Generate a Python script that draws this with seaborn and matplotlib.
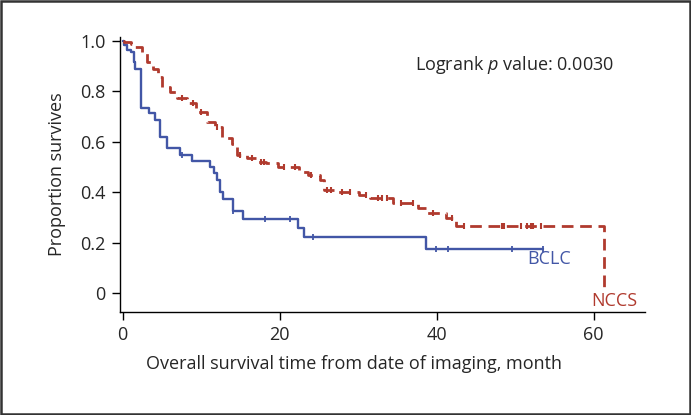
import numpy as np
import pandas as pd
import matplotlib
matplotlib.use("Agg")
import matplotlib.pyplot as plt
import seaborn as sns

# survival steps (months, proportion surviving)
bclc_t = [0, 0.2, 0.5, 1.0, 1.4, 1.6, 2.3, 3.3, 4.1, 4.7, 5.6, 7.3, 8.8, 11.1, 11.6,
          12.0, 12.4, 12.8, 14.1, 15.3, 22.3, 23.1, 38.7, 53.6]
bclc_s = [1.0, 0.983, 0.963, 0.957, 0.917, 0.89, 0.733, 0.713, 0.686, 0.62, 0.574,
          0.547, 0.525, 0.50, 0.475, 0.449, 0.40, 0.373, 0.327, 0.295, 0.259, 0.223,
          0.177, 0.177]
bclc_cens_t = [7.6, 14.1, 18.1, 21.3, 24.2, 39.9, 41.5, 49.6, 53.6]
bclc_cens_s = [0.547, 0.327, 0.295, 0.295, 0.223, 0.177, 0.177, 0.177, 0.177]

nccs_t = [0, 0.2, 1.0, 1.6, 2.4, 3.1, 3.9, 4.5, 5.0, 6.0, 6.9, 8.2, 9.4, 10.7, 11.8,
          12.6, 13.9, 14.5, 15.8, 17.1, 18.3, 19.8, 22.5, 23.6, 25.1, 25.7, 27.2,
          30.1, 31.5, 34.4, 37.6, 38.7, 41.2, 42.5, 61.3, 61.3]
nccs_s = [1.0, 0.996, 0.988, 0.976, 0.95, 0.917, 0.89, 0.857, 0.818, 0.798, 0.772,
          0.752, 0.719, 0.679, 0.66, 0.614, 0.591, 0.548, 0.534, 0.521, 0.515, 0.501,
          0.481, 0.468, 0.449, 0.409, 0.402, 0.39, 0.376, 0.359, 0.336, 0.32, 0.297,
          0.266, 0.266, 0.0]
nccs_cens_t = [7.5, 9.0, 10.0, 12.0, 15.0, 16.5, 17.6, 18.0, 20.5, 22.0, 24.0, 26.0,
               26.5, 28.0, 29.0, 31.0, 32.5, 33.0, 33.7, 35.5, 37.0, 39.5, 42.0, 43.5,
               48.3, 48.6, 50.8, 51.5, 52.0, 52.3, 53.3]
nccs_cens_s = [0.772, 0.752, 0.719, 0.66, 0.548, 0.534, 0.521, 0.521, 0.501, 0.501,
               0.468, 0.409, 0.409, 0.402, 0.402, 0.39, 0.376, 0.376, 0.376, 0.359,
               0.359, 0.32, 0.297, 0.266, 0.266, 0.266, 0.266, 0.266, 0.266, 0.266,
               0.266]

x_ticks = [0, 20, 40, 60]
y_ticks = [0, 0.2, 0.4, 0.6, 0.8, 1.0]
y_ticklabels = ["0", "0.2", "0.4", "0.6", "0.8", "1.0"]

blue = "#4256a6"
red = "#b03a2e"
fs = 13

sns.set_style("ticks")
plt.rcParams["font.family"] = ["Open Sans", "DejaVu Sans"]
plt.rcParams["mathtext.fontset"] = "custom"
plt.rcParams["mathtext.it"] = "Open Sans:italic"
plt.rcParams["mathtext.rm"] = "Open Sans"

df_b = pd.DataFrame({"t": bclc_t, "s": bclc_s})
df_n = pd.DataFrame({"t": nccs_t, "s": nccs_s})

fig = plt.figure(figsize=(6.91, 4.15), dpi=100)
ax = fig.add_axes([0.173, 0.2475, 0.76, 0.664])

sns.lineplot(data=df_b, x="t", y="s", ax=ax, color=blue, lw=1.7,
             drawstyle="steps-post", estimator=None, sort=False)
sns.lineplot(data=df_n, x="t", y="s", ax=ax, color=red, lw=2.0,
             drawstyle="steps-post", estimator=None, sort=False,
             linestyle=(0, (4.2, 2.4)))

sns.scatterplot(x=bclc_cens_t, y=bclc_cens_s, ax=ax, marker="|", s=14,
                color=blue, linewidth=1.3)
sns.scatterplot(x=nccs_cens_t, y=nccs_cens_s, ax=ax, marker="|", s=14,
                color=red, linewidth=1.5)

ax.set_xlim(-0.4, 66.5)
ax.set_ylim(-0.075, 1.016)
ax.set_xticks(x_ticks)
ax.set_yticks(y_ticks)
ax.set_yticklabels(y_ticklabels)
ax.tick_params(labelsize=fs, length=6, width=1.0, color="black", pad=4)
for sp in ["left", "bottom"]:
    ax.spines[sp].set_linewidth(1.0)
    ax.spines[sp].set_color("black")
sns.despine(ax=ax)

ax.set_xlabel("Overall survival time from date of imaging, month", fontsize=fs, labelpad=6)
ax.xaxis.set_label_coords(0.447, -0.155)
ax.set_ylabel("Proportion survives", fontsize=fs, labelpad=10)

ax.text(54.3, 0.134, "BCLC", color=blue, fontsize=fs, ha="center", va="center")
ax.text(62.6, -0.032, "NCCS", color=red, fontsize=fs, ha="center", va="center")
ax.text(37.3, 0.904, "Logrank $p$ value: 0.0030", fontsize=fs, ha="left", va="center")

# frame round the whole picture
fig.patches.append(plt.Rectangle((0.002, 0.003), 0.996, 0.994, transform=fig.transFigure,
                                 fill=False, edgecolor="#333333", lw=1.8))

fig.savefig("out.png", dpi=100)
